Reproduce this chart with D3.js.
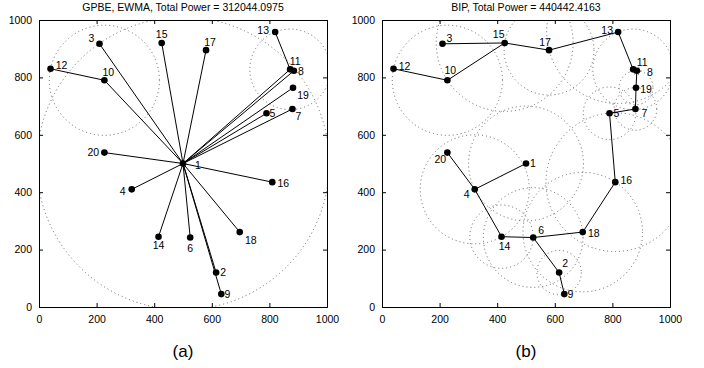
<!DOCTYPE html>
<html>
<head>
<meta charset="utf-8">
<script src="https://cdn.jsdelivr.net/npm/d3@7"></script>
<style>
  body { margin: 0; background: #fff; }
  svg { display: block; }
  text { font-family: "Liberation Sans", Arial, Helvetica, sans-serif; }
</style>
</head>
<body>
<svg id="chart" width="704" height="368"></svg>
<script>
// node positions (same network in both panels)
const nodeIds = [1, 2, 3, 4, 5, 6, 7, 8, 9, 10, 11, 12, 13, 14, 15, 16, 17, 18, 19, 20];
const nodeX = [500, 615, 210, 322, 790, 525, 880, 885, 633, 227, 872, 40, 820, 415, 426, 810, 580, 697, 882, 227];
const nodeY = [500, 120, 917, 410, 675, 242, 690, 823, 45, 790, 828, 830, 958, 245, 920, 435, 895, 261, 764, 538];

// broadcast trees, [parent, child]
const gpbeEdges = [[1, 2], [1, 9], [1, 3], [1, 4], [1, 5], [1, 6], [1, 7], [1, 8], [1, 10], [1, 11],
  [1, 14], [1, 15], [1, 16], [1, 17], [1, 18], [1, 19], [1, 20], [10, 12], [11, 13]];
const bipEdges = [[1, 4], [4, 20], [4, 14], [14, 6], [6, 18], [6, 2], [2, 9], [18, 16], [16, 5],
  [5, 7], [7, 19], [19, 8], [8, 11], [11, 13], [13, 17], [17, 15], [15, 3], [15, 10], [10, 12]];

const titles = ['GPBE, EWMA, Total Power = 312044.0975', 'BIP, Total Power = 440442.4163'];
const captions = ['(a)', '(b)'];
const tickValues = [0, 200, 400, 600, 800, 1000];

// label placement around each node [dx, dy], per panel
const labelOffsets = [
  {1: [15, 2], 2: [7, 0], 3: [-8, -6], 4: [-9, 2], 5: [6, 0], 6: [0, 11], 7: [6, 7], 8: [7, 0],
   9: [6, 0], 10: [4, -8], 11: [5, -8], 12: [11, -4], 13: [-12, -2], 14: [0, 9], 15: [0, -9],
   16: [11, 1], 17: [4, -8], 18: [11, 8], 19: [10, 7], 20: [-11, 0]},
  {1: [7, 0], 2: [6, -9], 3: [7, -6], 4: [-8, 5], 5: [7, 0], 6: [8, -7], 7: [9, 4], 8: [13, 1],
   9: [6, 0], 10: [3, -10], 11: [9, -7], 12: [11, -3], 13: [-11, -2], 14: [3, 10], 15: [-6, -9],
   16: [11, -2], 17: [-4, -8], 18: [11, 1], 19: [10, 1], 20: [-7, 7]}
];

const nodes = nodeIds.map((id, i) => ({ id, x: nodeX[i], y: nodeY[i] }));
const byId = new Map(nodes.map(n => [n.id, n]));

const panels = [
  { left: 39, edges: gpbeEdges },
  { left: 382, edges: bipEdges }
];
const plotTop = 20, plotW = 288, plotH = 287;

const svg = d3.select('#chart');
svg.append('rect').attr('width', 704).attr('height', 368).attr('fill', '#fff');

panels.forEach((p, k) => {
  const x = d3.scaleLinear().domain([0, 1000]).range([0, plotW]);
  const y = d3.scaleLinear().domain([0, 1000]).range([plotH, 0]);
  const g = svg.append('g').attr('transform', `translate(${p.left}, ${plotTop})`);

  g.append('clipPath').attr('id', `clip${k}`)
    .append('rect').attr('width', plotW).attr('height', plotH);

  // transmission range of each relaying node = distance to farthest child
  const radius = d3.rollup(p.edges, v => d3.max(v, ([a, b]) => {
    const na = byId.get(a), nb = byId.get(b);
    return Math.hypot(na.x - nb.x, na.y - nb.y);
  }), d => d[0]);

  g.append('g').attr('clip-path', `url(#clip${k})`)
    .selectAll('circle')
    .data(Array.from(radius))
    .join('circle')
      .attr('cx', d => x(byId.get(d[0]).x))
      .attr('cy', d => y(byId.get(d[0]).y))
      .attr('r', d => x(d[1]) - x(0))
      .attr('fill', 'none')
      .attr('stroke', '#555')
      .attr('stroke-width', 0.9)
      .attr('stroke-dasharray', '1,3');

  // axes, ticks inside on all four sides
  const tickLen = -4;
  const fmt = d3.format('d');
  g.append('g').attr('transform', `translate(0, ${plotH})`)
    .call(d3.axisBottom(x).tickValues(tickValues).tickFormat(fmt).tickSize(tickLen).tickPadding(9));
  g.append('g')
    .call(d3.axisLeft(y).tickValues(tickValues).tickFormat(fmt).tickSize(tickLen).tickPadding(7));
  g.append('g')
    .call(d3.axisTop(x).tickValues(tickValues).tickSize(tickLen).tickFormat(''));
  g.append('g').attr('transform', `translate(${plotW}, 0)`)
    .call(d3.axisRight(y).tickValues(tickValues).tickSize(tickLen).tickFormat(''));
  g.selectAll('.domain').attr('stroke', '#000').attr('stroke-width', 1);
  g.selectAll('.tick line').attr('stroke', '#000');
  g.selectAll('.tick text').attr('font-size', 10.5).attr('fill', '#000')
    .attr('font-family', '"Liberation Sans", Arial, sans-serif');

  g.append('g')
    .selectAll('line')
    .data(p.edges)
    .join('line')
      .attr('x1', d => x(byId.get(d[0]).x))
      .attr('y1', d => y(byId.get(d[0]).y))
      .attr('x2', d => x(byId.get(d[1]).x))
      .attr('y2', d => y(byId.get(d[1]).y))
      .attr('stroke', '#000')
      .attr('stroke-width', 1);

  g.append('g')
    .selectAll('circle')
    .data(nodes)
    .join('circle')
      .attr('cx', d => x(d.x))
      .attr('cy', d => y(d.y))
      .attr('r', 3.3)
      .attr('fill', '#000');

  g.append('g')
    .selectAll('text')
    .data(nodes)
    .join('text')
      .attr('x', d => x(d.x) + labelOffsets[k][d.id][0])
      .attr('y', d => y(d.y) + labelOffsets[k][d.id][1])
      .attr('dy', '0.36em')
      .attr('text-anchor', 'middle')
      .attr('font-size', 10.5)
      .attr('fill', '#000')
      .text(d => d.id);

  g.append('text')
    .attr('x', plotW / 2)
    .attr('y', -9)
    .attr('text-anchor', 'middle')
    .attr('font-size', 10.5)
    .attr('fill', '#000')
    .text(titles[k]);

  g.append('text')
    .attr('x', plotW / 2)
    .attr('y', 337)
    .attr('text-anchor', 'middle')
    .attr('font-family', '"Liberation Serif", "Times New Roman", serif')
    .attr('font-size', 17)
    .attr('fill', '#000')
    .text(captions[k]);
});
</script>
</body>
</html>
